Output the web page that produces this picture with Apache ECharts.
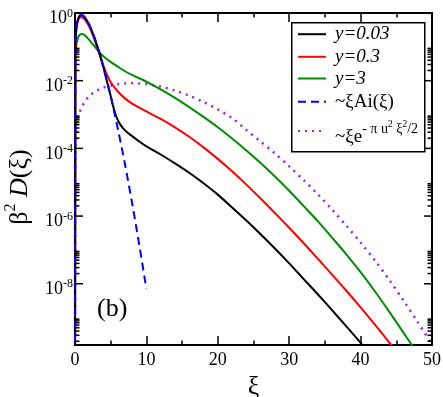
<!DOCTYPE html>
<html><head><meta charset="utf-8">
<script src="https://cdn.jsdelivr.net/npm/echarts@6/dist/echarts.min.js"></script>
<style>html,body{margin:0;padding:0;background:#fff}#c{width:443px;height:397px}</style>
</head><body><div id="c"></div>
<script>
// ---- data ----
const seriesNames = ['y=0.03', 'y=0.3', 'y=3', '~ξAi(ξ)', '~ξe-πu²ξ²/2'];

const xiBlack = [0, 0.05, 0.1, 0.2, 0.3, 0.5, 0.7, 0.9, 1.0, 1.2, 1.5, 2, 2.5, 3, 3.5, 4, 4.5, 5, 5.4, 5.8, 6.3, 7, 8, 9, 10, 12, 14, 16, 18, 20, 22, 24, 26, 28, 30, 32, 34, 36, 38, 40, 41, 42];
const dBlack = [1e-12, 0.11, 0.21, 0.39, 0.53, 0.74, 0.85, 0.88, 0.87, 0.82, 0.69, 0.45, 0.25, 0.125, 0.057, 0.024, 9.0e-3, 3.5e-3, 1.6e-3, 8.5e-4, 5.2e-4, 3.4e-4, 2.3e-4, 1.6e-4, 1.15e-4, 6.6e-5, 3.6e-5, 1.9e-5, 9.3e-6, 4.3e-6, 1.8e-6, 7.4e-7, 2.9e-7, 1.1e-7, 4.0e-8, 1.4e-8, 4.9e-9, 1.66e-9, 5.5e-10, 1.8e-10, 1.0e-10, 5.6e-11];

const xiRed = [0, 0.05, 0.1, 0.2, 0.3, 0.5, 0.7, 0.85, 1.0, 1.2, 1.5, 2, 2.5, 3, 3.5, 4, 4.5, 5, 6, 7, 8, 9, 10, 12, 14, 16, 18, 20, 22, 24, 26, 28, 30, 32, 34, 36, 38, 40, 42, 44, 45, 46];
const dRed = [1e-12, 0.09, 0.18, 0.34, 0.47, 0.65, 0.74, 0.76, 0.75, 0.70, 0.59, 0.39, 0.22, 0.11, 0.055, 0.027, 0.0145, 9.0e-3, 4.8e-3, 3.0e-3, 2.1e-3, 1.6e-3, 1.23e-3, 7.4e-4, 4.2e-4, 2.2e-4, 1.07e-4, 4.9e-5, 2.1e-5, 8.5e-6, 3.3e-6, 1.23e-6, 4.5e-7, 1.6e-7, 5.5e-8, 1.86e-8, 6.2e-9, 2.0e-9, 6.2e-10, 1.86e-10, 1.0e-10, 5e-11];

const xiGreen = [0, 0.05, 0.1, 0.2, 0.4, 0.6, 0.9, 1.2, 1.5, 2, 2.5, 3, 3.5, 4, 5, 6, 7, 8, 10, 12, 14, 16, 18, 20, 22, 24, 26, 28, 30, 32, 34, 36, 38, 40, 42, 44, 46, 47, 48];
const dGreen = [1e-12, 0.035, 0.065, 0.115, 0.18, 0.22, 0.24, 0.235, 0.21, 0.16, 0.118, 0.088, 0.066, 0.052, 0.036, 0.026, 0.019, 0.0148, 9.3e-3, 5.5e-3, 3.1e-3, 1.66e-3, 8.5e-4, 4.2e-4, 1.95e-4, 8.7e-5, 3.7e-5, 1.48e-5, 5.6e-6, 2.0e-6, 7.1e-7, 2.3e-7, 7.4e-8, 2.2e-8, 6.0e-9, 1.5e-9, 3.6e-10, 1.74e-10, 8.3e-11];

const xiAiry = [0, 0.05, 0.1, 0.2, 0.3, 0.5, 0.7, 0.9, 1.0, 1.2, 1.5, 2, 2.5, 3, 3.5, 4, 4.5, 5, 6, 7, 8, 9, 10];
const dAiry = [1e-12, 0.11, 0.21, 0.39, 0.53, 0.74, 0.85, 0.88, 0.87, 0.82, 0.69, 0.45, 0.25, 0.127, 0.058, 0.024, 9.5e-3, 3.5e-3, 3.8e-4, 3.4e-5, 2.4e-6, 1.4e-7, 7.0e-9];

const xiGauss = [0, 0.01, 0.05, 0.1, 0.2, 0.35, 0.6, 1, 1.5, 2, 3, 4, 5, 6, 7, 8, 9, 10, 12, 14, 16, 18, 20, 22, 24, 26, 28, 30, 32, 34, 36, 38, 40, 42, 44, 46, 48, 50];
const dGauss = [1e-12, 1.8e-5, 8.9e-5, 1.8e-4, 3.6e-4, 6.3e-4, 1.07e-3, 1.78e-3, 2.6e-3, 3.5e-3, 5.0e-3, 6.3e-3, 7.2e-3, 7.9e-3, 8.3e-3, 8.5e-3, 8.3e-3, 7.9e-3, 6.7e-3, 5.1e-3, 3.6e-3, 2.35e-3, 1.42e-3, 7.8e-4, 3.5e-4, 1.58e-4, 7.1e-5, 2.95e-5, 1.17e-5, 4.4e-6, 1.55e-6, 5.2e-7, 1.66e-7, 4.9e-8, 1.31e-8, 3.2e-9, 7.4e-10, 1.6e-10];

// axis ranges and ticks
const xMin = 0, xMax = 50, xStep = 10;
const yMin = 1.55e-10, yMax = 1;
const yMajorTicks = [1, 1e-2, 1e-4, 1e-6, 1e-8];
const yMinorDecades = [1e-2, 1e-4, 1e-6, 1e-8, 1e-10];
const yMinorMult = [2, 3, 4, 5, 6, 7, 8, 9];

// ---- layout constants ----
const legendRowCenters = [35.7, 58.3, 80, 103.3, 131];
const legendRowHeights = [22, 22, 22, 22, 32];

// ---- build ----
const F = '"Liberation Serif", "Times New Roman", Times, serif';
const pairs = (xs, ys) => xs.map((x, i) => [x, ys[i]]);
const tickData = [];
yMajorTicks.forEach(v => tickData.push([0, v, 8]));
yMinorDecades.forEach(d => yMinorMult.forEach(m => { const v = d * m; if (v > yMin) tickData.push([0, v, 4.5]); }));

const legendRich = {
  it: {fontFamily: F, fontStyle: 'italic', fontSize: 19, lineHeight: 22, color: '#000'},
  rm: {fontFamily: F, fontSize: 19, lineHeight: 22, color: '#000'},
  gb: {fontFamily: F, fontSize: 19, lineHeight: 32, verticalAlign: 'bottom', color: '#000'},
  g1: {fontFamily: F, fontSize: 14, lineHeight: 14, verticalAlign: 'top', padding: [7, 0, 0, 0], color: '#000'},
  g2: {fontFamily: F, fontSize: 9.5, lineHeight: 9.5, verticalAlign: 'top', padding: [4, 0, 0, 0], color: '#000'}
};
function legendFmt(name) {
  if (name === seriesNames[0]) return '{it|y=0.03}';
  if (name === seriesNames[1]) return '{it|y=0.3}';
  if (name === seriesNames[2]) return '{it|y=3}';
  if (name === seriesNames[3]) return '{rm|~ξAi(ξ)}';
  return '{gb|~ξe}{g1|- π u}{g2|2}{g1| ξ}{g2|2}{g1|/2}';
}
const legends = seriesNames.map((n, i) => ({
  data: [n], orient: 'vertical', left: 297, top: legendRowCenters[i] - legendRowHeights[i] / 2,
  padding: 0, itemWidth: 28, itemHeight: 14, selectedMode: false, z: 60,
  itemStyle: {color: 'rgba(0,0,0,0)', borderColor: 'rgba(0,0,0,0)', borderWidth: 0},
  formatter: legendFmt,
  textStyle: {fontFamily: F, fontSize: 19, color: '#000', padding: [0, 0, 0, 4], rich: legendRich}
}));

const chart = echarts.init(document.getElementById('c'), null, {renderer: 'canvas'});
const axisLineStyle = {color: '#000', width: 2};
chart.setOption({
  animation: false,
  backgroundColor: '#fff',
  grid: {left: 75, right: 11, top: 13, bottom: 52, outerBoundsMode: 'none', containLabel: false},
  title: {text: '(b)', left: 97, top: 296, padding: 0,
    textStyle: {fontFamily: F, fontSize: 26, fontWeight: 'normal', color: '#000'}},
  graphic: [{type: 'rect', left: 291, top: 22, z: 50,
    shape: {width: 133, height: 129}, style: {fill: '#fff', stroke: '#000', lineWidth: 1.5}}],
  legend: legends,
  xAxis: [{
    type: 'value', min: xMin, max: xMax, interval: xStep, position: 'bottom',
    axisLine: {lineStyle: axisLineStyle, onZero: false},
    axisTick: {inside: true, length: 9, lineStyle: {color: '#000', width: 1.5}},
    minorTick: {show: true, splitNumber: 2, length: 4.5, lineStyle: {color: '#000', width: 1.5}},
    axisLabel: {fontFamily: F, fontSize: 18, color: '#000', margin: 6},
    splitLine: {show: false},
    name: 'ξ', nameLocation: 'middle', nameGap: 17,
    nameTextStyle: {fontFamily: F, fontSize: 26, color: '#000'}
  }, {
    type: 'value', min: xMin, max: xMax, interval: xStep, position: 'top',
    axisLine: {lineStyle: axisLineStyle, onZero: false},
    axisTick: {inside: true, length: 9, lineStyle: {color: '#000', width: 1.5}},
    minorTick: {show: true, splitNumber: 2, length: 4.5, lineStyle: {color: '#000', width: 1.5}},
    axisLabel: {show: false}, splitLine: {show: false}
  }],
  yAxis: [{
    type: 'log', logBase: 10, min: yMin, max: yMax, position: 'left',
    axisLine: {lineStyle: axisLineStyle, onZero: false},
    axisTick: {show: false}, splitLine: {show: false}, minorTick: {show: false},
    axisLabel: {
      margin: 2, padding: [9, 0, 0, 0],
      formatter: function (v) {
        const l = Math.log10(v), e = Math.round(l);
        if (Math.abs(l - e) > 1e-6 || e % 2 !== 0) return '';
        return '{b|10}{s|' + (e === 0 ? '0' : '-' + Math.abs(e)) + '}';
      },
      rich: {
        b: {fontFamily: F, fontSize: 18, lineHeight: 20, verticalAlign: 'bottom', color: '#000'},
        s: {fontFamily: F, fontSize: 12, lineHeight: 12, verticalAlign: 'top', color: '#000'}
      }
    },
    name: '{b|β}{s|2}{d| D}{b|(ξ)}', nameLocation: 'middle', nameRotate: 90, nameGap: 42,
    nameTextStyle: {
      padding: [0, 16, 0, 0],
      rich: {
        b: {fontFamily: F, fontSize: 26, lineHeight: 30, verticalAlign: 'bottom', color: '#000'},
        d: {fontFamily: F, fontSize: 26, fontStyle: 'italic', lineHeight: 30, verticalAlign: 'bottom', color: '#000'},
        s: {fontFamily: F, fontSize: 16, lineHeight: 16, verticalAlign: 'top', color: '#000'}
      }
    }
  }, {
    type: 'log', logBase: 10, min: yMin, max: yMax, position: 'right',
    axisLine: {lineStyle: axisLineStyle, onZero: false},
    axisTick: {show: false}, axisLabel: {show: false}, splitLine: {show: false}
  }],
  series: [
    {name: seriesNames[0], type: 'line', data: pairs(xiBlack, dBlack), symbol: 'none', smooth: 0.3,
      lineStyle: {color: '#000000', width: 2}, itemStyle: {color: '#000000'}, z: 5},
    {name: seriesNames[1], type: 'line', data: pairs(xiRed, dRed), symbol: 'none', smooth: 0.3,
      lineStyle: {color: '#ff0000', width: 2}, itemStyle: {color: '#ff0000'}, z: 4},
    {name: seriesNames[2], type: 'line', data: pairs(xiGreen, dGreen), symbol: 'none', smooth: 0.3,
      lineStyle: {color: '#008c00', width: 2}, itemStyle: {color: '#008c00'}, z: 3},
    {name: seriesNames[3], type: 'line', data: pairs(xiAiry, dAiry), symbol: 'none', smooth: 0.3,
      lineStyle: {color: '#0000ff', width: 2, type: [8, 5]}, itemStyle: {color: '#0000ff'}, z: 6},
    {name: seriesNames[4], type: 'line', data: pairs(xiGauss, dGauss), symbol: 'none', smooth: 0.3,
      lineStyle: {color: '#9a1ee6', width: 2.5, type: [2, 5]}, itemStyle: {color: '#9a1ee6'}, z: 2},
    {type: 'custom', data: tickData, encode: {x: 0, y: 1}, silent: true, z: 10,
      renderItem: function (params, api) {
        const v = api.value(1), len = api.value(2);
        const pl = api.coord([xMin, v]), pr = api.coord([xMax, v]);
        const st = {stroke: '#000', lineWidth: 1.5};
        return {type: 'group', children: [
          {type: 'line', shape: {x1: pl[0], y1: pl[1], x2: pl[0] + len, y2: pl[1]}, style: st},
          {type: 'line', shape: {x1: pr[0], y1: pr[1], x2: pr[0] - len, y2: pr[1]}, style: st}
        ]};
      }}
  ]
});
</script>
</body></html>
